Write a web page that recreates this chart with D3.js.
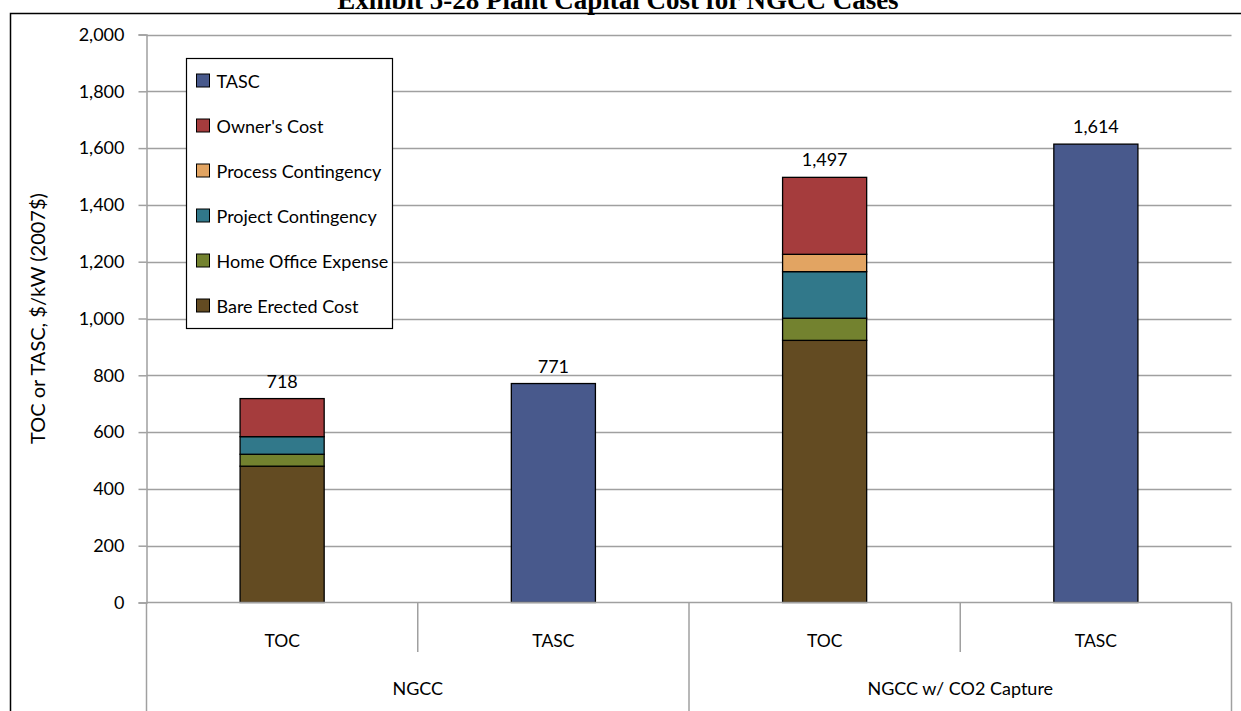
<!DOCTYPE html>
<html>
<head>
<meta charset="utf-8">
<script src="https://cdn.jsdelivr.net/npm/d3@7"></script>
<style>
  html, body { margin: 0; padding: 0; background: #fff; }
  svg { display: block; }
</style>
</head>
<body>
<svg id="chart" width="1241" height="711"></svg>
<script>
// Plant capital cost, $/kW (2007$)
const groups = ["NGCC", "NGCC w/ CO2 Capture"];
const costTypes = ["TOC", "TASC"];
const bareErectedCost = [480, 923];
const homeOfficeExpense = [42, 78];
const projectContingency = [62, 164];
const processContingency = [0, 61];
const ownersCost = [134, 271];
const tascValues = [771, 1614];
const tocTotals = [718, 1497];
const yTicks = [0, 200, 400, 600, 800, 1000, 1200, 1400, 1600, 1800, 2000];

const seriesNames = ["Bare Erected Cost", "Home Office Expense", "Project Contingency",
                     "Process Contingency", "Owner's Cost"];
const seriesColors = {
  "Bare Erected Cost": "#634B22",
  "Home Office Expense": "#73822F",
  "Project Contingency": "#31788A",
  "Process Contingency": "#E2A462",
  "Owner's Cost": "#A53C3D",
  "TASC": "#48598C"
};
const legendOrder = ["TASC", "Owner's Cost", "Process Contingency", "Project Contingency",
                     "Home Office Expense", "Bare Erected Cost"];

const FONT = "Lato, 'Open Sans', sans-serif";
const svg = d3.select("#chart");

// Title (sits above the chart frame)
svg.append("text")
  .attr("x", 618).attr("y", 9)
  .attr("text-anchor", "middle")
  .attr("font-family", "'Liberation Serif', 'Times New Roman', serif")
  .attr("font-weight", "bold")
  .attr("font-size", 27)
  .text("Exhibit 5-28 Plant Capital Cost for NGCC Cases");

// Chart frame
svg.append("rect")
  .attr("x", 10.5).attr("y", 13.5)
  .attr("width", 1250).attr("height", 720)
  .attr("fill", "none").attr("stroke", "#000").attr("stroke-width", 1.5);

const plot = { left: 146.5, right: 1231.5, top: 34.5, bottom: 602.5 };

// One slot per (group, cost type)
const slots = [];
groups.forEach((g, gi) => costTypes.forEach(ct => slots.push({ group: g, gi, type: ct, key: g + "|" + ct })));

const x = d3.scaleBand()
  .domain(slots.map(s => s.key))
  .range([plot.left, plot.right])
  .paddingInner(0).paddingOuter(0);

const y = d3.scaleLinear().domain([0, 2000]).range([plot.bottom, plot.top]);

const barW = x.bandwidth() * 0.31;

// Gridlines
svg.append("g")
  .selectAll("line")
  .data(yTicks.filter(t => t > 0))
  .join("line")
  .attr("x1", plot.left).attr("x2", plot.right)
  .attr("y1", d => Math.round(y(d)) + 0.5).attr("y2", d => Math.round(y(d)) + 0.5)
  .attr("stroke", "#A0A0A0").attr("stroke-width", 1.5);

// Y axis
const yAxis = d3.axisLeft(y)
  .tickValues(yTicks)
  .tickSize(8)
  .tickPadding(14)
  .tickFormat(d3.format(","));
const yg = svg.append("g")
  .attr("transform", `translate(${plot.left},0)`)
  .call(yAxis);
yg.select(".domain").attr("stroke", "#A0A0A0").attr("stroke-width", 1.5);
yg.selectAll(".tick line").attr("stroke", "#A0A0A0").attr("stroke-width", 1.5);
yg.selectAll(".tick text")
  .attr("font-family", FONT).attr("font-size", 18).attr("fill", "#000");

// Y axis title
svg.append("text")
  .attr("transform", `translate(37,${(plot.top + plot.bottom) / 2}) rotate(-90)`)
  .attr("text-anchor", "middle")
  .attr("dominant-baseline", "central")
  .attr("font-family", FONT).attr("font-size", 20)
  .text("TOC or TASC, $/kW (2007$)");

// Stacked TOC bars
const tocRows = groups.map((g, i) => ({
  key: g + "|TOC",
  "Bare Erected Cost": bareErectedCost[i],
  "Home Office Expense": homeOfficeExpense[i],
  "Project Contingency": projectContingency[i],
  "Process Contingency": processContingency[i],
  "Owner's Cost": ownersCost[i]
}));
const stacked = d3.stack().keys(seriesNames)(tocRows);

const barsG = svg.append("g");
stacked.forEach(layer => {
  barsG.append("g")
    .selectAll("rect")
    .data(layer.filter(d => d[1] - d[0] > 0))
    .join("rect")
    .attr("x", d => x(d.data.key) + (x.bandwidth() - barW) / 2)
    .attr("width", barW)
    .attr("y", d => y(d[1]))
    .attr("height", d => y(d[0]) - y(d[1]))
    .attr("fill", seriesColors[layer.key])
    .attr("stroke", "#000").attr("stroke-width", 1.3);
});

// TASC bars
const tascRows = groups.map((g, i) => ({ key: g + "|TASC", value: tascValues[i] }));
barsG.append("g")
  .selectAll("rect")
  .data(tascRows)
  .join("rect")
  .attr("x", d => x(d.key) + (x.bandwidth() - barW) / 2)
  .attr("width", barW)
  .attr("y", d => y(d.value))
  .attr("height", d => y(0) - y(d.value))
  .attr("fill", seriesColors["TASC"])
  .attr("stroke", "#000").attr("stroke-width", 1.3);

// Total labels
const totals = [
  ...groups.map((g, i) => ({ key: g + "|TOC", value: tocTotals[i] })),
  ...tascRows
];
svg.append("g")
  .selectAll("text")
  .data(totals)
  .join("text")
  .attr("x", d => x(d.key) + x.bandwidth() / 2)
  .attr("y", d => y(d.value) - 11)
  .attr("text-anchor", "middle")
  .attr("font-family", FONT).attr("font-size", 18)
  .text(d => d3.format(",")(d.value));

// X axis baseline
svg.append("line")
  .attr("x1", plot.left).attr("x2", plot.right)
  .attr("y1", plot.bottom).attr("y2", plot.bottom)
  .attr("stroke", "#A0A0A0").attr("stroke-width", 1.5);

// Category dividers: short between cost types, full between groups
const edges = slots.map(s => x(s.key)).concat([plot.right]);
svg.append("g")
  .selectAll("line")
  .data(edges)
  .join("line")
  .attr("x1", d => d).attr("x2", d => d)
  .attr("y1", plot.bottom)
  .attr("y2", (d, i) => (i % 2 === 0 ? 711 : 652))
  .attr("stroke", "#A0A0A0").attr("stroke-width", 1.5);

// Cost type labels
svg.append("g")
  .selectAll("text")
  .data(slots)
  .join("text")
  .attr("x", d => x(d.key) + x.bandwidth() / 2)
  .attr("y", 640)
  .attr("text-anchor", "middle")
  .attr("dominant-baseline", "central")
  .attr("font-family", FONT).attr("font-size", 17.5)
  .text(d => d.type);

// Group labels
svg.append("g")
  .selectAll("text")
  .data(groups)
  .join("text")
  .attr("x", (g) => (x(g + "|TOC") + x(g + "|TASC") + x.bandwidth()) / 2)
  .attr("y", 688)
  .attr("text-anchor", "middle")
  .attr("dominant-baseline", "central")
  .attr("font-family", FONT).attr("font-size", 18)
  .text(g => g);

// Legend
const legend = svg.append("g").attr("transform", "translate(186.5,58.5)");
legend.append("rect")
  .attr("width", 206).attr("height", 270)
  .attr("fill", "#fff").attr("stroke", "#000").attr("stroke-width", 1.2);
const items = legend.selectAll("g.item")
  .data(legendOrder)
  .join("g")
  .attr("class", "item")
  .attr("transform", (d, i) => `translate(0,${22 + i * 45})`);
items.append("rect")
  .attr("x", 10).attr("y", -6.5)
  .attr("width", 13).attr("height", 13)
  .attr("fill", d => seriesColors[d])
  .attr("stroke", "#000").attr("stroke-width", 1);
items.append("text")
  .attr("x", 30).attr("y", 0)
  .attr("dominant-baseline", "central")
  .attr("font-family", FONT).attr("font-size", 18)
  .text(d => d);
</script>
</body>
</html>
